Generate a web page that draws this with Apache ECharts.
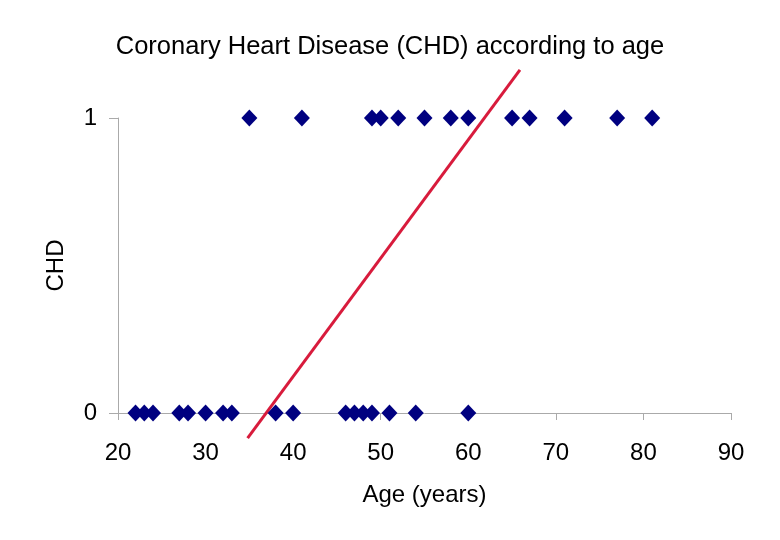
<!DOCTYPE html>
<html><head><meta charset="utf-8">
<script src="https://cdn.jsdelivr.net/npm/echarts@6/dist/echarts.min.js"></script>
<style>html,body{margin:0;padding:0;background:#fff}#c{width:780px;height:540px}</style>
</head><body><div id="c"></div>
<script>
var ages0 = [22,23,24,27,28,30,32,33,38,40,46,47,48,49,51,54,60];
var ages1 = [35,41,49,50,52,55,58,60,65,67,71,77,81];
var trendLine = [[34.8,-0.085],[65.9,1.163]];
var xTicks = [20,30,40,50,60,70,80,90];
var yTicks = [0,1];

var pts = ages0.map(function(a){return [a,0];}).concat(ages1.map(function(a){return [a,1];}));
var chart = echarts.init(document.getElementById('c'));
var font = 'Liberation Sans, Arial, sans-serif';
chart.setOption({
  animation:false,
  backgroundColor:'#fff',
  title:{text:'Coronary Heart Disease (CHD) according to age',left:'center',top:29,
    textStyle:{fontFamily:font,fontSize:25.5,fontWeight:'normal',color:'#000'}},
  grid:{left:118,right:49,top:118,bottom:127},
  xAxis:{type:'value',min:20,max:90,interval:10,
    name:'Age (years)',nameLocation:'middle',nameGap:70,
    nameTextStyle:{fontFamily:font,fontSize:24,color:'#000'},
    axisLine:{lineStyle:{color:'#aaa',width:1}},
    axisTick:{show:true,length:7,lineStyle:{color:'#aaa'}},
    splitLine:{show:false},
    axisLabel:{fontFamily:font,fontSize:24,color:'#000',margin:28}},
  yAxis:{type:'value',min:0,max:1,interval:1,
    name:'CHD',nameLocation:'middle',nameGap:50,
    nameTextStyle:{fontFamily:font,fontSize:24,color:'#000'},
    axisLine:{show:true,lineStyle:{color:'#aaa',width:1}},
    axisTick:{show:true,length:9,lineStyle:{color:'#aaa'}},
    splitLine:{show:false},
    axisLabel:{fontFamily:font,fontSize:24,color:'#000',margin:21,
      formatter:function(v){return yTicks.indexOf(v)>=0?String(v):'';}}},
  series:[
    {type:'scatter',data:pts,symbol:'diamond',symbolSize:[16,17],
      itemStyle:{color:'#000080',opacity:1},z:3},
    {type:'line',data:trendLine,clip:false,showSymbol:false,symbol:'none',
      lineStyle:{color:'#d81b3c',width:3},z:2}
  ]
});
</script></body></html>
